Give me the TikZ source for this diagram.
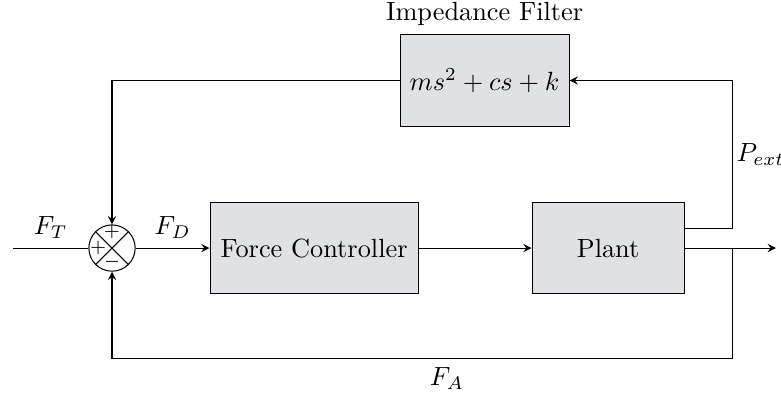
\documentclass[tikz,border=0pt]{standalone}
\usepackage{amssymb}
\usepackage{tikz}
\usepackage{xcolor}
\usetikzlibrary{arrows, calc, positioning}

\definecolor{blockgray}{RGB}{224,225,228}
\tikzset{
    block/.style={draw, fill=blockgray, minimum height=1.217cm, inner sep=0pt},
    sumnode/.style={draw, circle, minimum size=0.618cm, inner sep=0pt},
    sign/.style={font=\scriptsize, inner sep=0pt}
}

\begin{document}
\begin{tikzpicture}[>=stealth, x=0.966cm, y=0.966cm]
                            \useasboundingbox (0,0) rectangle (10.80,-5.477);

                            \node[sumnode] (sum) at (1.549, -3.430) {};
                            \draw (sum.north west) -- (sum.south east)
                                  (sum.north east) -- (sum.south west);
                            \node[sign] (plustop) at ($(sum)+(0,0.22)$) {$+$};
                            \node[sign] (plusleft) at ($(sum)+(-0.19,0)$) {$+$};
                            \node[sign] (minusbot) at ($(sum)+(0,-0.19)$) {$-$};

                            \node[block, minimum width=2.779cm] (fc) at (4.343, -3.430) {Force Controller};
                            \node[block, minimum width=2.031cm] (plant) at (8.409, -3.430) {Plant};
                            \node[block, minimum width=2.258cm, label=above:Impedance Filter] (filter) at (6.701, -1.113) {$ms^2 + cs + k$};

                            \coordinate (in) at (0.18, -3.430);
                            \coordinate (out) at (10.73, -3.430);
                            \coordinate (pout) at ($(plant.east)+(0,0.27)$);
                            \coordinate (tap) at (10.124, -3.430);
                            \coordinate (ptop) at (tap |- filter.east);
                            \coordinate (bot) at (10.124, -4.952);

                            \draw
                            (in) edge[above] node{$F_T$} (sum)
                            (sum) edge[above, ->] node{$F_D$} (fc)
                            (fc) edge[->] (plant)
                            (plant) edge[->] (out);
                            \draw[->] (pout) -| node[pos=0.75, right, inner sep=1.5pt]{$P_{ext}$} (ptop) -- (filter.east);
                            \draw[->] (filter.west) -| (sum.north);
                            \draw[->] (tap) -- (bot) -| node[pos=0.23, below]{$F_A$} (sum.south);
                        \end{tikzpicture}
\end{document}
